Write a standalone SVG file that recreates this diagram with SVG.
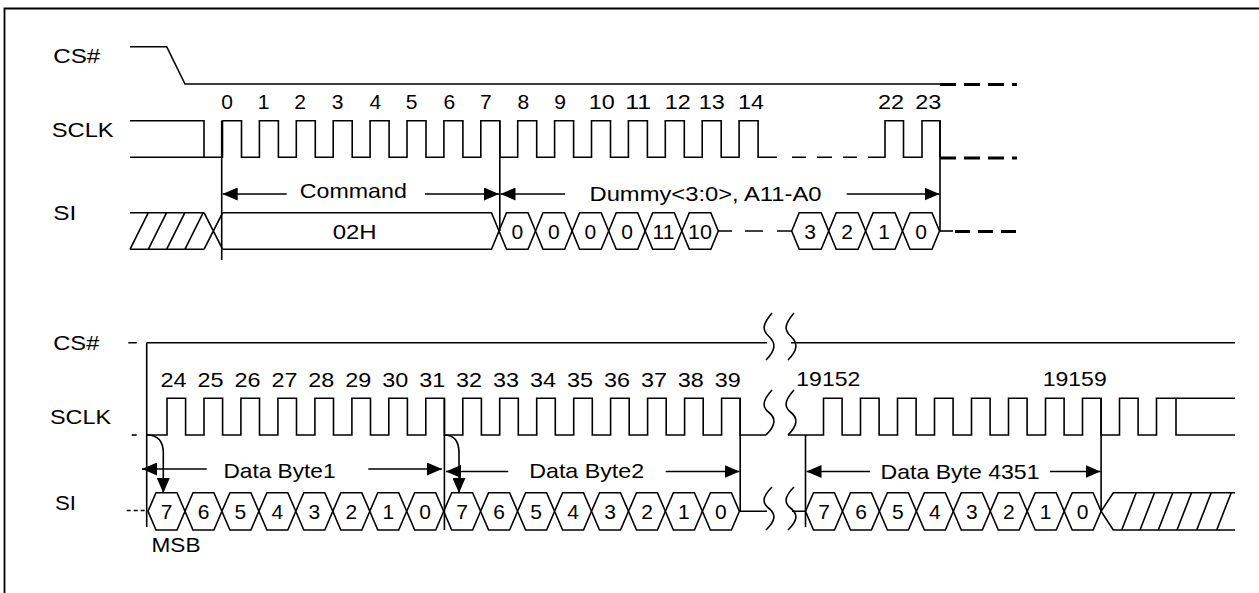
<svg xmlns="http://www.w3.org/2000/svg" width="1259" height="593" viewBox="0 0 1259 593">
<style>
.s{fill:none;stroke:#000;stroke-width:1.6;stroke-linejoin:miter}
.c{fill:#fff;stroke:#000;stroke-width:1.6}
.th{fill:none;stroke:#000;stroke-width:3;stroke-dasharray:16 8}
.t{font-family:"Liberation Sans",Arial,sans-serif;font-size:21px;fill:#000}
.m{text-anchor:middle}
</style>
<defs>
<marker id="ah" viewBox="0 0 15 13" refX="15" refY="6.5" markerWidth="15" markerHeight="13" markerUnits="userSpaceOnUse" orient="auto">
<path d="M0,0 L15,6.5 L0,13 Z" fill="#000"/>
</marker>
</defs>
<rect width="1259" height="593" fill="#fff"/>
<path class="s" style="stroke-width:1.8" d="M4.5,593 V8.5 H1259"/>

<g id="labels" class="t">
<text x="53.3" y="63.3" textLength="47" lengthAdjust="spacingAndGlyphs">CS#</text>
<text x="51.7" y="137.3" textLength="62" lengthAdjust="spacingAndGlyphs">SCLK</text>
<text x="53.3" y="220" textLength="23" lengthAdjust="spacingAndGlyphs">SI</text>
<text x="53.3" y="350" textLength="46" lengthAdjust="spacingAndGlyphs">CS#</text>
<text x="50" y="424" textLength="61" lengthAdjust="spacingAndGlyphs">SCLK</text>
<text x="55" y="509.5" textLength="21" lengthAdjust="spacingAndGlyphs">SI</text>
<text x="151.5" y="551.5" textLength="49" lengthAdjust="spacingAndGlyphs">MSB</text>
</g>

<g id="top-clock-numbers" class="t m">
<text x="227" y="109">0</text><text x="263.5" y="109">1</text><text x="300" y="109">2</text><text x="337.5" y="109">3</text>
<text x="375.3" y="109">4</text><text x="411.7" y="109">5</text><text x="449.3" y="109">6</text><text x="485.8" y="109">7</text>
<text x="523.3" y="109">8</text><text x="560" y="109">9</text>
<text x="601.7" y="109" textLength="26" lengthAdjust="spacingAndGlyphs">10</text>
<text x="638.3" y="109" textLength="26" lengthAdjust="spacingAndGlyphs">11</text>
<text x="677.8" y="109" textLength="26" lengthAdjust="spacingAndGlyphs">12</text>
<text x="711.7" y="109" textLength="26" lengthAdjust="spacingAndGlyphs">13</text>
<text x="751" y="109" textLength="26" lengthAdjust="spacingAndGlyphs">14</text>
<text x="891" y="109" textLength="26" lengthAdjust="spacingAndGlyphs">22</text>
<text x="928.3" y="109" textLength="26" lengthAdjust="spacingAndGlyphs">23</text>
</g>

<g id="bottom-clock-numbers" class="t m">
<text x="173.5" y="386.7" textLength="26" lengthAdjust="spacingAndGlyphs">24</text>
<text x="210.5" y="386.7" textLength="26" lengthAdjust="spacingAndGlyphs">25</text>
<text x="247.4" y="386.7" textLength="26" lengthAdjust="spacingAndGlyphs">26</text>
<text x="284.4" y="386.7" textLength="26" lengthAdjust="spacingAndGlyphs">27</text>
<text x="321.3" y="386.7" textLength="26" lengthAdjust="spacingAndGlyphs">28</text>
<text x="358.3" y="386.7" textLength="26" lengthAdjust="spacingAndGlyphs">29</text>
<text x="395.2" y="386.7" textLength="26" lengthAdjust="spacingAndGlyphs">30</text>
<text x="432.2" y="386.7" textLength="26" lengthAdjust="spacingAndGlyphs">31</text>
<text x="469.1" y="386.7" textLength="26" lengthAdjust="spacingAndGlyphs">32</text>
<text x="506.1" y="386.7" textLength="26" lengthAdjust="spacingAndGlyphs">33</text>
<text x="543" y="386.7" textLength="26" lengthAdjust="spacingAndGlyphs">34</text>
<text x="580" y="386.7" textLength="26" lengthAdjust="spacingAndGlyphs">35</text>
<text x="616.9" y="386.7" textLength="26" lengthAdjust="spacingAndGlyphs">36</text>
<text x="653.9" y="386.7" textLength="26" lengthAdjust="spacingAndGlyphs">37</text>
<text x="690.8" y="386.7" textLength="26" lengthAdjust="spacingAndGlyphs">38</text>
<text x="727.8" y="386.7" textLength="26" lengthAdjust="spacingAndGlyphs">39</text>
<text x="828.3" y="386" textLength="64" lengthAdjust="spacingAndGlyphs">19152</text>
<text x="1074.7" y="386" textLength="64" lengthAdjust="spacingAndGlyphs">19159</text>
</g>

<g id="top-cs">
<path class="s" d="M130,46.7 H166.7 L185,84 H940"/>
<path class="th" d="M940,84.5 H1017"/>
</g>

<g id="top-sclk">
<path class="s" d="M130,120.7 H204 V157.3"/>
<path class="s" d="M130,157.3 H222.5 V120.7 H241.5 V157.3 H259.4 V120.7 H278.4 V157.3 H296.3 V120.7 H315.3 V157.3 H333.2 V120.7 H352.2 V157.3 H370.1 V120.7 H389.1 V157.3 H407 V120.7 H426 V157.3 H443.9 V120.7 H462.9 V157.3 H480.8 V120.7 H499.8 V157.3 H517.7 V120.7 H536.7 V157.3 H554.6 V120.7 H573.6 V157.3 H591.5 V120.7 H610.5 V157.3 H628.4 V120.7 H647.4 V157.3 H665.3 V120.7 H684.3 V157.3 H702.2 V120.7 H721.2 V157.3 H739.1 V120.7 H758.1 V157.3 H777"/>
<path class="s" d="M792,157.3 H806 M817,157.3 H832 M843,157.3 H857"/>
<path class="s" d="M868,157.3 H885 V120.7 H903.5 V157.3 H922 V120.7 H940 V157.3"/>
<path class="th" d="M940,158 H1017"/>
</g>

<g id="top-si">
<path class="s" d="M130,212.7 H204 M130,249.3 H204 M130,249.3 L148.3,212.7 M148.3,249.3 L166.6,212.7 M166.6,249.3 L184.9,212.7 M184.9,249.3 L203.2,212.7 M204,212.7 L222.7,249.3 M204,249.3 L222.7,212.7"/>
<path class="s" d="M222.7,212.7 H491.5 L499,231 L491.5,249.3 H222.7"/>
<text class="t m" x="354.7" y="239" textLength="44" lengthAdjust="spacingAndGlyphs">02H</text>
<polygon class="c" points="499,231 506.5,212.7 528,212.7 535.5,231 528,249.3 506.5,249.3"/>
<polygon class="c" points="535.5,231 543,212.7 564.6,212.7 572.1,231 564.6,249.3 543,249.3"/>
<polygon class="c" points="572.1,231 579.6,212.7 601.2,212.7 608.7,231 601.2,249.3 579.6,249.3"/>
<polygon class="c" points="608.7,231 616.2,212.7 637.7,212.7 645.2,231 637.7,249.3 616.2,249.3"/>
<polygon class="c" points="645.2,231 652.7,212.7 674.3,212.7 681.8,231 674.3,249.3 652.7,249.3"/>
<polygon class="c" points="681.8,231 689.3,212.7 710.8,212.7 718.3,231 710.8,249.3 689.3,249.3"/>
<g class="t m">
<text x="517.3" y="238.5">0</text><text x="553.8" y="238.5">0</text><text x="590.4" y="238.5">0</text><text x="627" y="238.5">0</text>
<text x="663.5" y="238.5" textLength="22" lengthAdjust="spacingAndGlyphs">11</text>
<text x="700" y="238.5" textLength="24" lengthAdjust="spacingAndGlyphs">10</text>
</g>
<path class="s" d="M718.3,231 H732 M745,231 H763 M777,231 H791.7"/>
<polygon class="c" points="791.7,231 799.2,212.7 821.2,212.7 828.7,231 821.2,249.3 799.2,249.3"/>
<polygon class="c" points="828.7,231 836.2,212.7 858.1,212.7 865.6,231 858.1,249.3 836.2,249.3"/>
<polygon class="c" points="865.6,231 873.1,212.7 895,212.7 902.5,231 895,249.3 873.1,249.3"/>
<polygon class="c" points="902.5,231 910,212.7 932,212.7 939.5,231 932,249.3 910,249.3"/>
<g class="t m">
<text x="810.2" y="238.5">3</text><text x="847.1" y="238.5">2</text><text x="884" y="238.5">1</text><text x="921" y="238.5">0</text>
</g>
<path class="s" d="M939.5,231 H953"/>
<path class="th" style="stroke-dasharray:15 8" d="M955,231.5 H1017"/>
</g>

<g id="bottom-cs">
<path class="s" d="M128.3,342.7 H136.7 M146.7,342.7 H767 M791,342.7 H1235"/>
</g>

<g id="bottom-sclk">
<path class="s" d="M131.7,435 H136.7"/>
<path class="s" d="M146.7,435 H167 V398.3 H185.6 V435 H204 V398.3 H222.6 V435 H240.9 V398.3 H259.5 V435 H277.9 V398.3 H296.5 V435 H314.9 V398.3 H333.5 V435 H351.9 V398.3 H370.5 V435 H388.8 V398.3 H407.4 V435 H425.8 V398.3 H444.4 V435 H462.8 V398.3 H481.4 V435 H499.7 V398.3 H518.3 V435 H536.7 V398.3 H555.3 V435 H573.7 V398.3 H592.3 V435 H610.6 V398.3 H629.2 V435 H647.6 V398.3 H666.2 V435 H684.6 V398.3 H703.2 V435 H721.6 V398.3 H740.2 V435 H766"/>
<path class="s" d="M788,435 H823.5 V398.3 H842.1 V435 H860.5 V398.3 H879.1 V435 H897.5 V398.3 H916.1 V435 H934.5 V398.3 H953.1 V435 H971.5 V398.3 H990.1 V435 H1008.5 V398.3 H1027.1 V435 H1045.5 V398.3 H1064.1 V435 H1082.5 V398.3 H1101.1 V435 H1119.5 V398.3 H1138.1 V435 H1156.5 V398.3 H1235"/>
<path class="s" d="M1176,398.3 V435 H1235"/>
</g>

<g id="bottom-si">
<path class="s" style="stroke-dasharray:4 3" d="M126.7,510.5 H146.7"/>
<polygon class="c" points="148,511.3 156,492.7 177,492.7 185,511.3 177,530 156,530"/>
<polygon class="c" points="185,511.3 193,492.7 213.9,492.7 221.9,511.3 213.9,530 193,530"/>
<polygon class="c" points="221.9,511.3 229.9,492.7 250.9,492.7 258.9,511.3 250.9,530 229.9,530"/>
<polygon class="c" points="258.9,511.3 266.9,492.7 287.8,492.7 295.8,511.3 287.8,530 266.9,530"/>
<polygon class="c" points="295.8,511.3 303.8,492.7 324.8,492.7 332.8,511.3 324.8,530 303.8,530"/>
<polygon class="c" points="332.8,511.3 340.8,492.7 361.8,492.7 369.8,511.3 361.8,530 340.8,530"/>
<polygon class="c" points="369.8,511.3 377.8,492.7 398.7,492.7 406.7,511.3 398.7,530 377.8,530"/>
<polygon class="c" points="406.7,511.3 414.7,492.7 435.7,492.7 443.7,511.3 435.7,530 414.7,530"/>
<polygon class="c" points="443.7,511.3 451.7,492.7 472.6,492.7 480.6,511.3 472.6,530 451.7,530"/>
<polygon class="c" points="480.6,511.3 488.6,492.7 509.6,492.7 517.6,511.3 509.6,530 488.6,530"/>
<polygon class="c" points="517.6,511.3 525.6,492.7 546.6,492.7 554.6,511.3 546.6,530 525.6,530"/>
<polygon class="c" points="554.6,511.3 562.6,492.7 583.5,492.7 591.5,511.3 583.5,530 562.6,530"/>
<polygon class="c" points="591.5,511.3 599.5,492.7 620.5,492.7 628.5,511.3 620.5,530 599.5,530"/>
<polygon class="c" points="628.5,511.3 636.5,492.7 657.4,492.7 665.4,511.3 657.4,530 636.5,530"/>
<polygon class="c" points="665.4,511.3 673.4,492.7 694.4,492.7 702.4,511.3 694.4,530 673.4,530"/>
<polygon class="c" points="702.4,511.3 710.4,492.7 731.4,492.7 739.4,511.3 731.4,530 710.4,530"/>
<g class="t m">
<text x="166.5" y="519">7</text><text x="203.5" y="519">6</text><text x="240.4" y="519">5</text><text x="277.4" y="519">4</text>
<text x="314.3" y="519">3</text><text x="351.3" y="519">2</text><text x="388.3" y="519">1</text><text x="425.2" y="519">0</text>
<text x="462.2" y="519">7</text><text x="499.1" y="519">6</text><text x="536.1" y="519">5</text><text x="573" y="519">4</text>
<text x="610" y="519">3</text><text x="647" y="519">2</text><text x="683.9" y="519">1</text><text x="720.9" y="519">0</text>
</g>
<path class="s" d="M739.4,511.3 H767 M792,511.3 H805.5"/>
<polygon class="c" points="805.5,511.3 813.5,492.7 834.5,492.7 842.5,511.3 834.5,530 813.5,530"/>
<polygon class="c" points="842.5,511.3 850.5,492.7 871.4,492.7 879.4,511.3 871.4,530 850.5,530"/>
<polygon class="c" points="879.4,511.3 887.4,492.7 908.4,492.7 916.4,511.3 908.4,530 887.4,530"/>
<polygon class="c" points="916.4,511.3 924.4,492.7 945.3,492.7 953.3,511.3 945.3,530 924.4,530"/>
<polygon class="c" points="953.3,511.3 961.3,492.7 982.3,492.7 990.3,511.3 982.3,530 961.3,530"/>
<polygon class="c" points="990.3,511.3 998.3,492.7 1019.2,492.7 1027.2,511.3 1019.2,530 998.3,530"/>
<polygon class="c" points="1027.2,511.3 1035.2,492.7 1056.2,492.7 1064.2,511.3 1056.2,530 1035.2,530"/>
<polygon class="c" points="1064.2,511.3 1072.2,492.7 1093.1,492.7 1101.1,511.3 1093.1,530 1072.2,530"/>
<g class="t m">
<text x="824" y="519">7</text><text x="861" y="519">6</text><text x="897.9" y="519">5</text><text x="934.9" y="519">4</text>
<text x="971.8" y="519">3</text><text x="1008.8" y="519">2</text><text x="1045.7" y="519">1</text><text x="1082.7" y="519">0</text>
</g>
<path class="s" d="M1101.1,511.3 L1113.3,492.7 H1235 M1101.1,511.3 L1113.3,530 H1235 M1121.7,530 L1136.2,492.7 M1140,530 L1154.5,492.7 M1158.3,530 L1172.8,492.7 M1177,530 L1191.5,492.7 M1196.7,530 L1211.2,492.7 M1216.7,530 L1231.2,492.7"/>
</g>

<g id="breaks" class="s">
<path d="M772,313 C762,325 762,330 769,336.5 S776,350 766,360"/>
<path d="M794,313 C784,325 784,330 791,336.5 S798,350 788,360"/>
<path d="M772,390 C762,401 762,407 769,412.5 S776,425 766,435"/>
<path d="M794,390 C784,401 784,407 791,412.5 S798,425 788,435"/>
<path d="M772,487 C762,497 762,503 769,508.5 S776,520 766,530"/>
<path d="M794,487 C784,497 784,503 791,508.5 S798,520 788,530"/>
</g>

<g id="connectors">
<path class="s" d="M221.7,120.7 V260 M499.8,120.7 V231 M940,120.7 V231 M146.7,342.7 V527 M444.4,398.3 V530 M740.2,398.3 V511.3 M805.5,435 V527 M1101.1,398.3 V511.3"/>
<path class="s" marker-end="url(#ah)" d="M286.7,194 H222.7"/>
<path class="s" marker-end="url(#ah)" d="M425,194 H499"/>
<path class="s" marker-end="url(#ah)" d="M565,194 H500.5"/>
<path class="s" marker-end="url(#ah)" d="M846.7,194 H939.5"/>
<path class="s" marker-end="url(#ah)" d="M206.7,469 H142"/>
<path class="s" marker-end="url(#ah)" d="M368.3,469 H442"/>
<path class="s" marker-end="url(#ah)" d="M508.3,471.5 H446"/>
<path class="s" marker-end="url(#ah)" d="M665.7,471.5 H739.5"/>
<path class="s" marker-end="url(#ah)" d="M870,471.5 H806.5"/>
<path class="s" marker-end="url(#ah)" d="M1050,471.5 H1100.5"/>
<path class="s" marker-end="url(#ah)" d="M146.7,435 Q163.3,435 163.3,453 V493"/>
<path class="s" marker-end="url(#ah)" d="M444.4,435 Q459,435 459,453 V493"/>
</g>

<g id="dimension-labels" class="t m">
<text x="353.3" y="198" textLength="107" lengthAdjust="spacingAndGlyphs">Command</text>
<text x="705.5" y="200.5" textLength="232" lengthAdjust="spacingAndGlyphs">Dummy&lt;3:0&gt;, A11-A0</text>
<text x="279.5" y="477.5" textLength="112" lengthAdjust="spacingAndGlyphs">Data Byte1</text>
<text x="586.7" y="477.5" textLength="115" lengthAdjust="spacingAndGlyphs">Data Byte2</text>
<text x="960" y="478.5" textLength="159" lengthAdjust="spacingAndGlyphs">Data Byte 4351</text>
</g>
</svg>
